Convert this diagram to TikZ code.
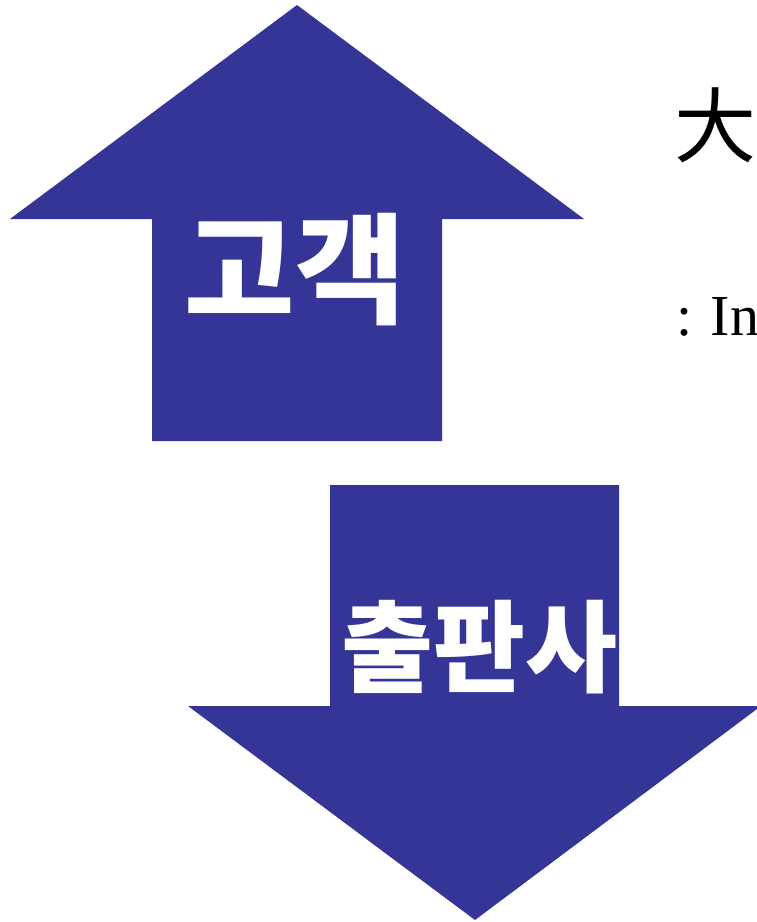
\documentclass[tikz,border=0pt]{standalone}
\usepackage{fontspec}
\setmainfont{Liberation Serif}
\newfontfamily\kr{Noto Sans CJK KR}
\definecolor{arrowblue}{RGB}{53,53,151}
\begin{document}
\begin{tikzpicture}[x=1pt,y=-1pt,
  arrowshape/.style={fill=arrowblue,draw=none},
  arrowlabel/.style={text=white,inner sep=0pt,font=\kr\bfseries}]
\useasboundingbox (0,0) rectangle (757,922);
\clip (0,0) rectangle (757,922);
\fill[arrowshape] (297,5) -- (584,219) -- (442,219) -- (442,441) -- (152,441) -- (152,219) -- (10,219) -- cycle;
\fill[arrowshape] (330,485) -- (619,485) -- (619,706) -- (761,706) -- (475,920) -- (188,706) -- (330,706) -- cycle;
\node[arrowlabel,font=\kr\bfseries\fontsize{120}{130}\selectfont] (up) at (295,270) {고객};
\node[arrowlabel,font=\kr\bfseries\fontsize{100}{110}\selectfont] (down) at (479,647) {출판사};
\node[inner sep=0pt,font=\kr\fontsize{82}{90}\selectfont] (big) at (715,125) {大};
\node[inner sep=0pt,anchor=base west,font=\fontsize{58}{64}\selectfont] (note) at (676.5,335) {:\hspace{18pt}In};
\end{tikzpicture}
\end{document}
